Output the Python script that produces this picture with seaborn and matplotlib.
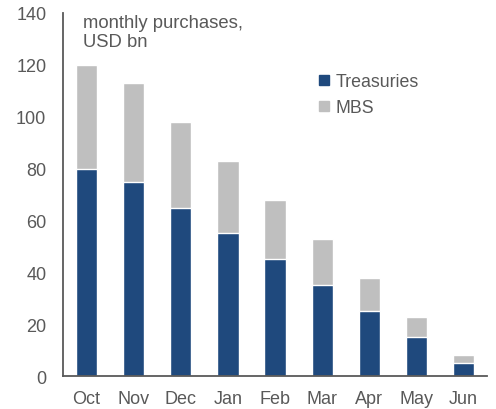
import pandas as pd
import matplotlib.pyplot as plt
from matplotlib.patches import Patch
import seaborn as sns

sns.set_style('white')
plt.rcParams['font.family'] = ['Liberation Sans', 'DejaVu Sans']

months = ['Oct', 'Nov', 'Dec', 'Jan', 'Feb', 'Mar', 'Apr', 'May', 'Jun']
treasuries = [80, 75, 65, 55, 45, 35, 25, 15, 5]
mbs = [40, 38, 33, 28, 23, 18, 13, 8, 3]

blue = '#1F497D'
grey = '#BFBFBF'
txt = '#595959'

df = pd.DataFrame({'month': months, 'Treasuries': treasuries, 'MBS': mbs})
df['total'] = df['Treasuries'] + df['MBS']

fig = plt.figure(figsize=(4.96, 4.10), dpi=100)
ax = fig.add_axes([0.127, 0.080, 0.855, 0.886])

# stacked: total in grey, treasuries drawn over it
sns.barplot(data=df, x='month', y='total', color=grey, width=0.45,
            saturation=1, ax=ax)
sns.barplot(data=df, x='month', y='Treasuries', color=blue, width=0.45,
            saturation=1, ax=ax)

ax.set_ylim(0, 140)
ax.set_xlim(-0.5, len(months) - 0.5)
ax.set_yticks(range(0, 141, 20))
ax.set_xlabel('')
ax.set_ylabel('')

for s in ['top', 'right']:
    ax.spines[s].set_visible(False)
for s in ['left', 'bottom']:
    ax.spines[s].set_color('#595959')
    ax.spines[s].set_linewidth(1.3)

# x ticks sit between the categories
ax.set_xticks(range(len(months)))
ax.set_xticklabels(months)
ax.tick_params(axis='x', length=0, labelsize=13, labelcolor=txt, pad=10)
ax.tick_params(axis='y', length=3, width=1.3, color='#595959', direction='in',
               labelsize=13, labelcolor=txt, pad=12)
ax.set_xticks([i + 0.5 for i in range(len(months) - 1)], minor=True)
ax.tick_params(axis='x', which='minor', length=4, width=1.3, color='#595959',
               direction='in')

ax.text(0.047, 0.998, 'monthly purchases,\nUSD bn', transform=ax.transAxes,
        fontsize=13.3, color=txt, va='top', ha='left', linespacing=1.2)

handles = [Patch(color=blue, label='Treasuries'), Patch(color=grey, label='MBS')]
ax.legend(handles=handles, loc='upper left', bbox_to_anchor=(0.566, 0.878),
          frameon=False, fontsize=12.8, labelcolor=txt, handlelength=0.55,
          handleheight=0.55, handletextpad=0.4, labelspacing=0.5)

fig.savefig('out.png', dpi=100)
